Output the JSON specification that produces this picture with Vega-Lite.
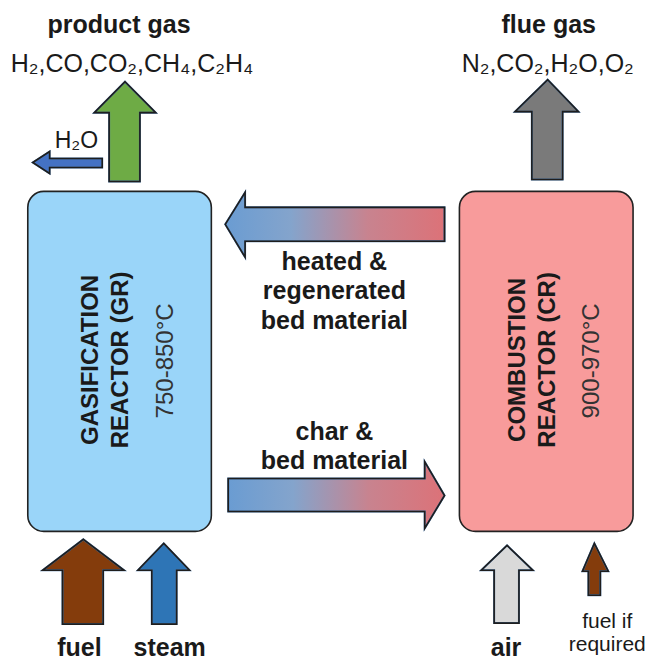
{
  "$schema": "https://vega.github.io/schema/vega-lite/v6.json",
  "width": 646,
  "height": 661,
  "autosize": {"type": "fit", "contains": "padding"},
  "padding": 0,
  "background": "#ffffff",
  "config": {"view": {"stroke": null}, "text": {"font": "Liberation Sans", "color": "#1a1a1a"}},
  "datasets": {
    "boxes": [
      {"name": "GR", "x0": 28, "x1": 213, "y0": 192, "y1": 533},
      {"name": "CR", "x0": 463, "x1": 638, "y0": 192, "y1": 533}
    ],
    "arrows": [
      {"name": "product", "i": 0, "x": 126, "y": 82}, {"name": "product", "i": 1, "x": 157, "y": 113}, {"name": "product", "i": 2, "x": 141, "y": 113}, {"name": "product", "i": 3, "x": 141, "y": 182}, {"name": "product", "i": 4, "x": 110, "y": 182}, {"name": "product", "i": 5, "x": 110, "y": 113}, {"name": "product", "i": 6, "x": 95, "y": 113},
      {"name": "water", "i": 0, "x": 33, "y": 163}, {"name": "water", "i": 1, "x": 50, "y": 152}, {"name": "water", "i": 2, "x": 50, "y": 159}, {"name": "water", "i": 3, "x": 103, "y": 159}, {"name": "water", "i": 4, "x": 103, "y": 168}, {"name": "water", "i": 5, "x": 50, "y": 168}, {"name": "water", "i": 6, "x": 50, "y": 174},
      {"name": "flue", "i": 0, "x": 552, "y": 80}, {"name": "flue", "i": 1, "x": 583, "y": 112}, {"name": "flue", "i": 2, "x": 567, "y": 112}, {"name": "flue", "i": 3, "x": 567, "y": 180}, {"name": "flue", "i": 4, "x": 536, "y": 180}, {"name": "flue", "i": 5, "x": 536, "y": 112}, {"name": "flue", "i": 6, "x": 519, "y": 112},
      {"name": "fuel", "i": 0, "x": 84, "y": 541}, {"name": "fuel", "i": 1, "x": 125, "y": 572}, {"name": "fuel", "i": 2, "x": 104, "y": 572}, {"name": "fuel", "i": 3, "x": 104, "y": 626}, {"name": "fuel", "i": 4, "x": 63, "y": 626}, {"name": "fuel", "i": 5, "x": 63, "y": 572}, {"name": "fuel", "i": 6, "x": 43, "y": 572},
      {"name": "steam", "i": 0, "x": 165, "y": 545}, {"name": "steam", "i": 1, "x": 191, "y": 572}, {"name": "steam", "i": 2, "x": 178, "y": 572}, {"name": "steam", "i": 3, "x": 178, "y": 626}, {"name": "steam", "i": 4, "x": 153, "y": 626}, {"name": "steam", "i": 5, "x": 153, "y": 572}, {"name": "steam", "i": 6, "x": 139, "y": 572},
      {"name": "air", "i": 0, "x": 511, "y": 547}, {"name": "air", "i": 1, "x": 537, "y": 572}, {"name": "air", "i": 2, "x": 523, "y": 572}, {"name": "air", "i": 3, "x": 523, "y": 625}, {"name": "air", "i": 4, "x": 498, "y": 625}, {"name": "air", "i": 5, "x": 498, "y": 572}, {"name": "air", "i": 6, "x": 485, "y": 572},
      {"name": "fuel2", "i": 0, "x": 599, "y": 545}, {"name": "fuel2", "i": 1, "x": 613, "y": 573}, {"name": "fuel2", "i": 2, "x": 605, "y": 573}, {"name": "fuel2", "i": 3, "x": 605, "y": 597}, {"name": "fuel2", "i": 4, "x": 593, "y": 597}, {"name": "fuel2", "i": 5, "x": 593, "y": 573}, {"name": "fuel2", "i": 6, "x": 587, "y": 573},
      {"name": "heat", "i": 0, "x": 227, "y": 225}, {"name": "heat", "i": 1, "x": 247, "y": 193}, {"name": "heat", "i": 2, "x": 247, "y": 208}, {"name": "heat", "i": 3, "x": 448, "y": 208}, {"name": "heat", "i": 4, "x": 448, "y": 242}, {"name": "heat", "i": 5, "x": 247, "y": 242}, {"name": "heat", "i": 6, "x": 247, "y": 258},
      {"name": "char", "i": 0, "x": 448, "y": 497}, {"name": "char", "i": 1, "x": 428, "y": 530}, {"name": "char", "i": 2, "x": 428, "y": 513}, {"name": "char", "i": 3, "x": 230, "y": 513}, {"name": "char", "i": 4, "x": 230, "y": 480}, {"name": "char", "i": 5, "x": 428, "y": 480}, {"name": "char", "i": 6, "x": 428, "y": 463}
    ],
    "labels": [
      {"kind": "bold", "text": "product gas", "x": 120, "y": 25},
      {"kind": "bold", "text": "flue gas", "x": 553, "y": 25},
      {"kind": "regular", "text": "H₂,CO,CO₂,CH₄,C₂H₄", "x": 133, "y": 64},
      {"kind": "regular", "text": "N₂,CO₂,H₂O,O₂", "x": 552, "y": 64},
      {"kind": "small", "text": "H₂O", "x": 77, "y": 141},
      {"kind": "vbold", "text": "GASIFICATION", "x": 92, "y": 361},
      {"kind": "vbold", "text": "REACTOR (GR)", "x": 122, "y": 361},
      {"kind": "vregular", "text": "750-850°C", "x": 167, "y": 362},
      {"kind": "vbold", "text": "COMBUSTION", "x": 522, "y": 361},
      {"kind": "vbold", "text": "REACTOR (CR)", "x": 552, "y": 361},
      {"kind": "vregular", "text": "900-970°C", "x": 597, "y": 362},
      {"kind": "bold", "text": "heated &", "x": 337, "y": 263},
      {"kind": "bold", "text": "regenerated", "x": 337, "y": 292},
      {"kind": "bold", "text": "bed material", "x": 337, "y": 322},
      {"kind": "bold", "text": "char &", "x": 337, "y": 433},
      {"kind": "bold", "text": "bed material", "x": 337, "y": 462},
      {"kind": "bold", "text": "fuel", "x": 80, "y": 650},
      {"kind": "bold", "text": "steam", "x": 171, "y": 650},
      {"kind": "bold", "text": "air", "x": 510, "y": 650},
      {"kind": "tiny", "text": "fuel if", "x": 612, "y": 624},
      {"kind": "tiny", "text": "required", "x": 612, "y": 647}
    ]
  },
  "resolve": {"scale": {"fill": "independent"}},
  "layer": [
    {
      "data": {"name": "boxes"},
      "mark": {"type": "rect", "cornerRadius": 16},
      "encoding": {
        "x": {"field": "x0", "type": "quantitative", "scale": {"domain": [0, 646], "nice": false, "zero": false}, "axis": null},
        "x2": {"field": "x1"},
        "y": {"field": "y0", "type": "quantitative", "scale": {"domain": [0, 661], "nice": false, "zero": false, "reverse": true}, "axis": null},
        "y2": {"field": "y1"},
        "fill": {"field": "name", "type": "nominal", "scale": {"domain": ["GR", "CR"], "range": ["#9ad5f9", "#f89b9b"]}, "legend": null}
      }
    },
    {
      "data": {"name": "boxes"},
      "mark": {"type": "rect", "cornerRadius": 16, "filled": false, "color": "#222222", "strokeWidth": 1.6, "strokeOpacity": 1},
      "encoding": {
        "x": {"field": "x0", "type": "quantitative", "axis": null},
        "x2": {"field": "x1"},
        "y": {"field": "y0", "type": "quantitative", "axis": null},
        "y2": {"field": "y1"}
      }
    },
    {
      "data": {"name": "arrows"},
      "transform": [{"filter": "datum.name !== 'heat' && datum.name !== 'char'"}],
      "mark": {"type": "line", "interpolate": "linear-closed"},
      "encoding": {
        "x": {"field": "x", "type": "quantitative", "axis": null},
        "y": {"field": "y", "type": "quantitative", "axis": null},
        "order": {"field": "i", "type": "quantitative"},
        "detail": {"field": "name", "type": "nominal"},
        "fill": {"field": "name", "type": "nominal", "scale": {"domain": ["product", "water", "flue", "fuel", "steam", "air", "fuel2"], "range": ["#6eab45", "#4472c4", "#7a7a7a", "#843c0c", "#2e75b6", "#d9d9d9", "#843c0c"]}, "legend": null}
      }
    },
    {
      "data": {"name": "arrows"},
      "transform": [{"filter": "datum.name === 'heat'"}],
      "mark": {"type": "line", "interpolate": "linear-closed",
        "fill": {"gradient": "linear", "x1": 0, "y1": 0, "x2": 1, "y2": 0, "stops": [{"offset": 0, "color": "#6a9cd2"}, {"offset": 0.3, "color": "#84a4cc"}, {"offset": 0.65, "color": "#c8838f"}, {"offset": 1, "color": "#dc7278"}]}},
      "encoding": {
        "x": {"field": "x", "type": "quantitative", "axis": null},
        "y": {"field": "y", "type": "quantitative", "axis": null},
        "order": {"field": "i", "type": "quantitative"}
      }
    },
    {
      "data": {"name": "arrows"},
      "transform": [{"filter": "datum.name === 'char'"}],
      "mark": {"type": "line", "interpolate": "linear-closed",
        "fill": {"gradient": "linear", "x1": 0, "y1": 0, "x2": 1, "y2": 0, "stops": [{"offset": 0, "color": "#6a9cd2"}, {"offset": 0.3, "color": "#84a4cc"}, {"offset": 0.65, "color": "#c8838f"}, {"offset": 1, "color": "#dc7278"}]}},
      "encoding": {
        "x": {"field": "x", "type": "quantitative", "axis": null},
        "y": {"field": "y", "type": "quantitative", "axis": null},
        "order": {"field": "i", "type": "quantitative"}
      }
    },
    {
      "data": {"name": "arrows"},
      "mark": {"type": "line", "interpolate": "linear-closed", "color": "#1e1e1e", "strokeWidth": 1.6, "strokeJoin": "miter", "strokeOpacity": 1},
      "encoding": {
        "x": {"field": "x", "type": "quantitative", "axis": null},
        "y": {"field": "y", "type": "quantitative", "axis": null},
        "order": {"field": "i", "type": "quantitative"},
        "detail": {"field": "name", "type": "nominal"}
      }
    },
    {
      "data": {"name": "labels"},
      "transform": [{"filter": "datum.kind === 'bold'"}],
      "mark": {"type": "text", "fontSize": 25, "fontWeight": "bold", "align": "center", "baseline": "middle"},
      "encoding": {
        "x": {"field": "x", "type": "quantitative", "axis": null},
        "y": {"field": "y", "type": "quantitative", "axis": null},
        "text": {"field": "text"}
      }
    },
    {
      "data": {"name": "labels"},
      "transform": [{"filter": "datum.kind === 'regular'"}],
      "mark": {"type": "text", "fontSize": 25, "align": "center", "baseline": "middle"},
      "encoding": {
        "x": {"field": "x", "type": "quantitative", "axis": null},
        "y": {"field": "y", "type": "quantitative", "axis": null},
        "text": {"field": "text"}
      }
    },
    {
      "data": {"name": "labels"},
      "transform": [{"filter": "datum.kind === 'small'"}],
      "mark": {"type": "text", "fontSize": 23, "align": "center", "baseline": "middle"},
      "encoding": {
        "x": {"field": "x", "type": "quantitative", "axis": null},
        "y": {"field": "y", "type": "quantitative", "axis": null},
        "text": {"field": "text"}
      }
    },
    {
      "data": {"name": "labels"},
      "transform": [{"filter": "datum.kind === 'tiny'"}],
      "mark": {"type": "text", "fontSize": 21, "align": "center", "baseline": "middle"},
      "encoding": {
        "x": {"field": "x", "type": "quantitative", "axis": null},
        "y": {"field": "y", "type": "quantitative", "axis": null},
        "text": {"field": "text"}
      }
    },
    {
      "data": {"name": "labels"},
      "transform": [{"filter": "datum.kind === 'vbold'"}],
      "mark": {"type": "text", "fontSize": 24, "fontWeight": "bold", "angle": 270, "align": "center", "baseline": "middle"},
      "encoding": {
        "x": {"field": "x", "type": "quantitative", "axis": null},
        "y": {"field": "y", "type": "quantitative", "axis": null},
        "text": {"field": "text"}
      }
    },
    {
      "data": {"name": "labels"},
      "transform": [{"filter": "datum.kind === 'vregular'"}],
      "mark": {"type": "text", "fontSize": 24, "angle": 270, "align": "center", "baseline": "middle", "color": "#333333"},
      "encoding": {
        "x": {"field": "x", "type": "quantitative", "axis": null},
        "y": {"field": "y", "type": "quantitative", "axis": null},
        "text": {"field": "text"}
      }
    }
  ]
}
